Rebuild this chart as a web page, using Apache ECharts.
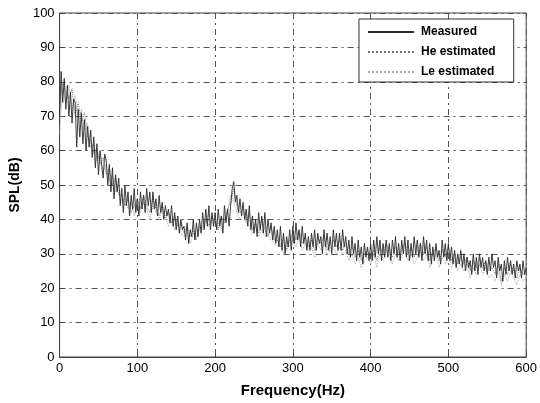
<!DOCTYPE html>
<html><head><meta charset="utf-8">
<script src="https://cdn.jsdelivr.net/npm/echarts@6/dist/echarts.min.js"></script>
<style>html,body{margin:0;padding:0;background:#fff}#c{width:540px;height:403px}</style>
</head><body><div id="c"></div>
<script>
// Frequency axis ticks and value ticks
const xTicks = [0, 100, 200, 300, 400, 500, 600];
const yTicks = [0, 10, 20, 30, 40, 50, 60, 70, 80, 90, 100];
const seriesNames = ['Measured', 'He estimated', 'Le estimated'];

// Measured SPL (dB), sampled every 2 Hz from 0 Hz
const measuredStep = 2;
const measured = [
 70,83,74,81,72,79,70,77,68,75,
 74,61,72,64,71,62,69,60,67,61,
 66,58,64,55,62,53,60,56,52,59,
 57,50,56,48,55,46,53,48,52,44,
 49,42,50,44,48,41,47,43,49,42,
 46,41,48,43,47,42,49,44,48,42,
 48,43,46,41,47,42,45,40,44,41,
 43,39,44,38,42,37,41,36,40,37,
 38,34,39,33,37,35,40,34,39,35,
 40,36,42,37,43,38,44,37,42,38,
 42,37,43,38,41,36,44,39,43,38,
 44,49,51,45,47,42,46,41,45,40,
 43,38,44,37,41,36,40,35,42,37,
 41,36,42,35,40,36,39,34,38,33,
 37,32,38,31,36,30,35,32,37,31,
 38,33,39,34,37,32,38,33,36,31,
 35,31,36,32,37,31,36,33,35,30,
 37,32,36,31,35,30,37,32,36,31,
 36,31,37,32,35,30,34,29,35,30,
 33,28,34,29,32,27,33,29,32,28,
 33,28,34,29,35,30,34,28,33,29,
 34,29,33,28,34,30,35,29,33,28,
 34,30,35,29,34,28,33,29,35,30,
 34,29,33,28,35,30,34,28,33,27,
 32,28,33,29,31,27,34,29,33,28,
 33,28,32,27,31,26,30,27,31,26,
 30,25,29,26,28,24,30,25,29,24,
 30,26,29,25,28,24,29,25,30,26,
 28,23,29,25,27,22,28,24,29,25,
 28,24,27,23,28,25,27,23,28,24,
 26
];

// Estimated SPL (dB), sampled every 4 Hz from 0 Hz
const estStep = 4;
const heEstimated = [
 72,80,77,75,78,70,74,68,71,64,
 63,59,61,56,58,53,55,50,52,47,
 47,44,46,42,44,46,43,47,44,42,
 46,43,41,44,40,42,39,41,38,39,
 36,38,35,37,34,38,37,40,38,41,
 39,37,41,39,43,45,49,44,42,43,
 40,42,37,39,36,40,37,35,38,34,
 34,32,35,31,34,36,34,37,33,35,
 32,34,31,35,33,35,31,33,34,32,
 34,31,33,30,32,29,31,28,30,31,
 29,31,28,32,30,33,31,29,32,30,
 31,33,30,32,29,31,33,30,32,28,
 30,32,28,31,29,32,28,30,27,29,
 27,29,25,28,26,29,26,28,25,26,
 24,27,22,26,24,27,25,23,26,24,
 25
];
const leEstimated = [
 65,78,74,79,72,76,69,72,66,68,
 61,62,57,59,54,56,51,53,48,50,
 45,46,43,45,41,44,42,45,43,40,
 44,42,40,43,41,38,40,37,40,36,
 35,36,33,36,35,37,38,39,40,39,
 38,39,37,40,42,47,45,42,40,42,
 39,38,36,38,35,37,35,36,34,33,
 32,33,30,33,32,34,32,35,31,33,
 31,32,29,33,31,33,30,31,32,30,
 32,30,31,28,30,27,29,26,28,29,
 27,30,26,30,28,31,29,27,30,28,
 29,31,28,30,27,29,31,28,30,26,
 28,30,26,29,27,30,26,28,25,27,
 25,27,23,26,24,27,24,26,23,24,
 22,25,21,24,22,25,23,21,24,22,
 23
];

function pairs(vals, step){ return vals.map((v,i)=>[i*step, v]); }

const chart = echarts.init(document.getElementById('c'), null, {renderer:'canvas'});
const font = '"Liberation Sans", Arial, sans-serif';
chart.setOption({
  animation:false,
  backgroundColor:'#fff',
  grid:{left:59, right:13, top:13, bottom:40, show:true, borderColor:'#444', borderWidth:1, backgroundColor:'transparent'},
  legend:{
    data:seriesNames, orient:'vertical', left:359, top:19,
    backgroundColor:'#fff', borderColor:'#333', borderWidth:1,
    padding:[7,18,4,8], itemGap:8, itemWidth:46, itemHeight:12,
    itemStyle:{opacity:0},
    textStyle:{fontFamily:font, fontWeight:'bold', fontSize:12, color:'#000', padding:[0,0,0,2]}
  },
  xAxis:{
    type:'value', min:xTicks[0], max:xTicks[xTicks.length-1], interval:100,
    name:'Frequency(Hz)', nameLocation:'middle', nameGap:26,
    nameTextStyle:{fontFamily:font, fontWeight:'bold', fontSize:15, color:'#000'},
    axisLine:{show:true, lineStyle:{color:'#444'}},
    axisTick:{show:true, inside:true, length:4, lineStyle:{color:'#444'}},
    axisLabel:{fontFamily:font, fontSize:13, color:'#000', margin:5},
    splitLine:{show:true, lineStyle:{color:'#555', type:[6,4,2,4], width:1}}
  },
  yAxis:{
    type:'value', min:yTicks[0], max:yTicks[yTicks.length-1], interval:10,
    name:'SPL(dB)', nameLocation:'middle', nameGap:36,
    nameTextStyle:{fontFamily:font, fontWeight:'bold', fontSize:14, color:'#000'},
    axisLine:{show:true, lineStyle:{color:'#444'}},
    axisTick:{show:true, inside:true, length:4, lineStyle:{color:'#444'}},
    axisLabel:{fontFamily:font, fontSize:13, color:'#000', margin:5},
    splitLine:{show:true, lineStyle:{color:'#555', type:[6,4,2,4], width:1}}
  },
  series:[
    {name:seriesNames[0], type:'line', symbol:'none', data:pairs(measured, measuredStep),
     lineStyle:{color:'#2a2a2a', width:0.9}, itemStyle:{color:'#2a2a2a'}, z:3},
    {name:seriesNames[1], type:'line', symbol:'none', data:pairs(heEstimated, estStep),
     lineStyle:{color:'#777', width:1, type:'dotted'}, itemStyle:{color:'#777'}, z:2},
    {name:seriesNames[2], type:'line', symbol:'none', data:pairs(leEstimated, estStep),
     lineStyle:{color:'#aaa', width:1, type:'dotted'}, itemStyle:{color:'#aaa'}, z:2}
  ]
});
</script></body></html>
